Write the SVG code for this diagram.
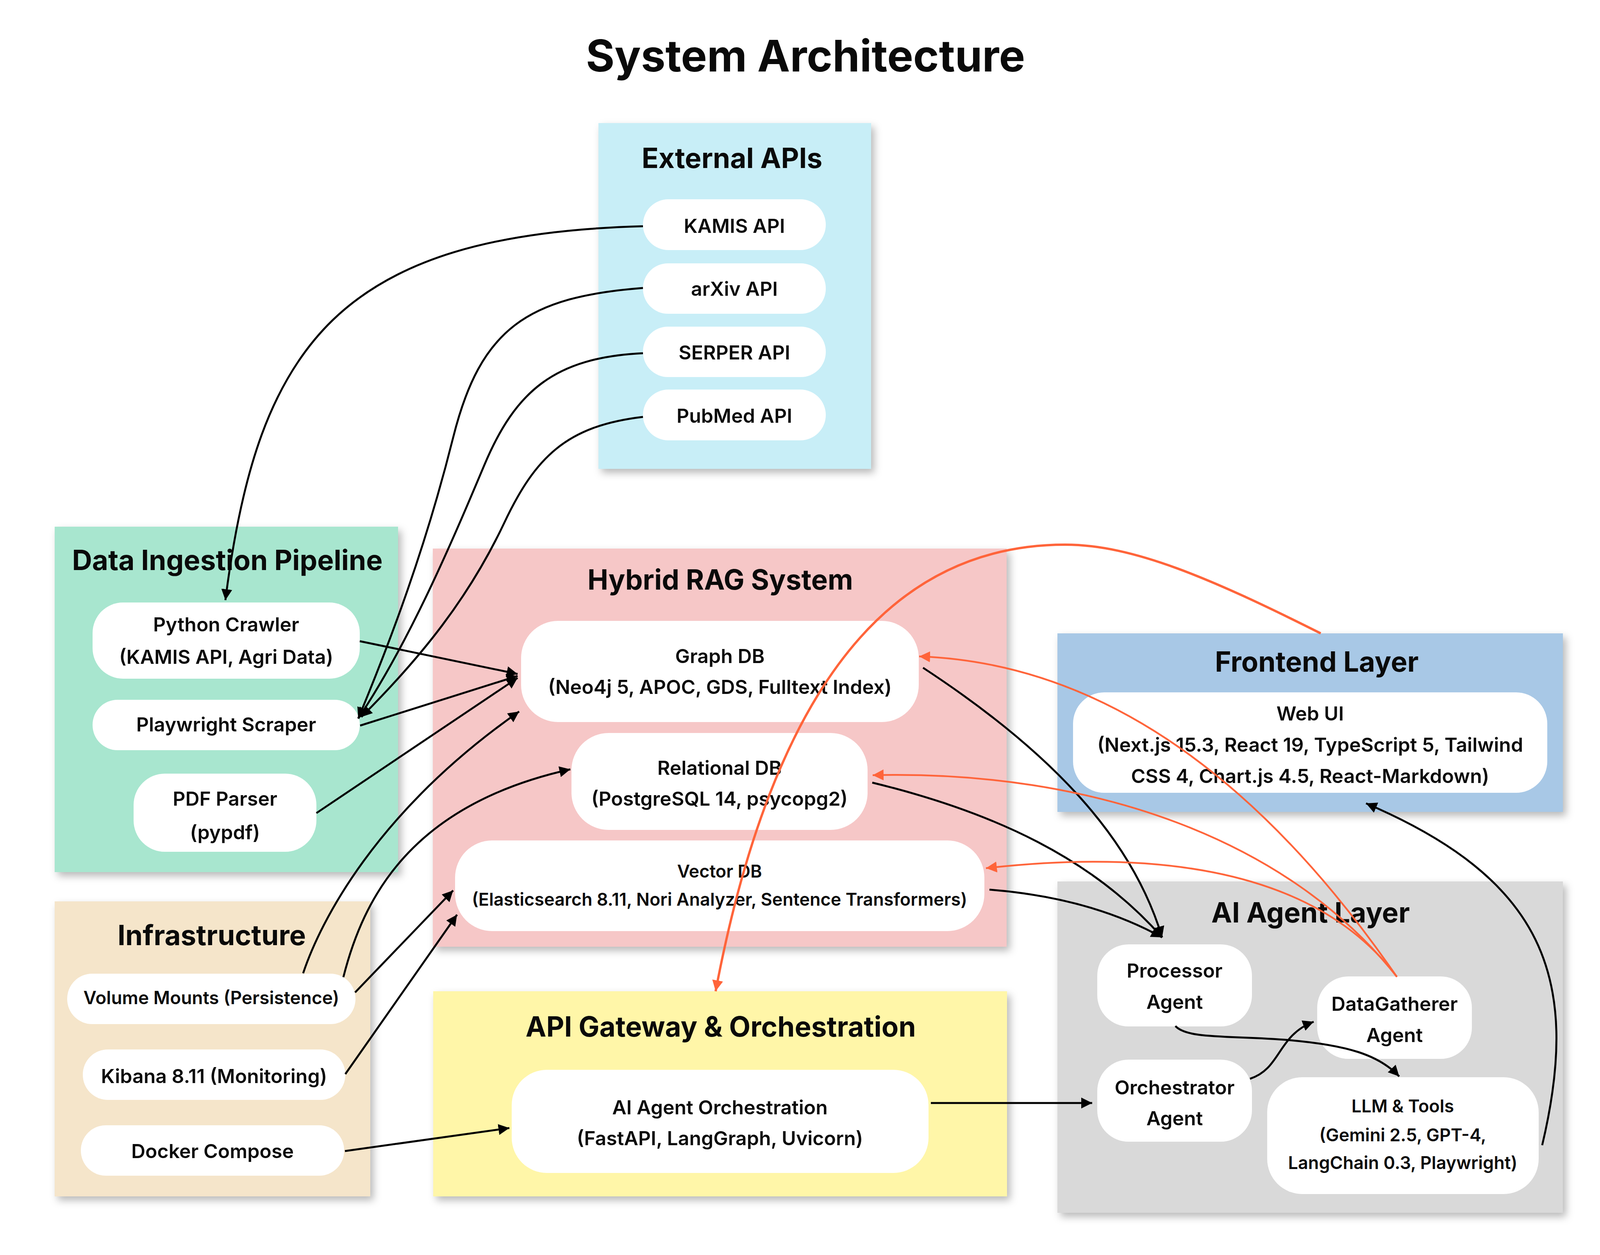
<svg xmlns="http://www.w3.org/2000/svg" width="4140" height="3212" viewBox="0 0 4140 3212">
<defs>
<filter id="sh" x="-10%" y="-10%" width="125%" height="125%">
<feDropShadow dx="8" dy="10" stdDeviation="10" flood-color="#000" flood-opacity="0.28"/>
</filter>
<marker id="ab" viewBox="0 0 10 10" refX="10" refY="5" markerWidth="28" markerHeight="28" markerUnits="userSpaceOnUse" orient="auto">
<path d="M0,0 L10,5 L0,10 z" fill="#000"/>
</marker>
<marker id="ar" viewBox="0 0 10 10" refX="10" refY="5" markerWidth="28" markerHeight="30" markerUnits="userSpaceOnUse" orient="auto">
<path d="M0,0 L10,5 L0,10 z" fill="#FF643A"/>
</marker>
</defs>
<style>
text{font-family:Inter,"Noto Sans","Liberation Sans",sans-serif;fill:#0a0a0a;text-anchor:middle}
.title{font-size:112px;font-weight:700}
.ct{font-size:71px;font-weight:700}
.nt{font-size:50px;font-weight:600}
.sm{font-size:46px;font-weight:600}
.xs{font-size:45px;font-weight:600}
.cl{filter:url(#sh)}
.nd{fill:#fff}
.e{fill:none;stroke:#000;stroke-width:5;marker-end:url(#ab)}
.r{fill:none;stroke:#FF643A;stroke-width:4.5;marker-end:url(#ar)}
.rb{stroke-width:6}
</style>
<rect x="0" y="0" width="4140" height="3212" fill="#fff"/>
<text class="title" x="2062" y="183">System Architecture</text>

<g id="cluster-external">
<rect class="cl" x="1532" y="315" width="698" height="885" fill="#C8EEF7"/>
<text class="ct" x="1874" y="430">External APIs</text>
</g>
<g id="cluster-ingestion">
<rect class="cl" x="140" y="1348" width="879" height="884" fill="#A8E6CF"/>
<text class="ct" x="582" y="1459">Data Ingestion Pipeline</text>
</g>
<g id="cluster-rag">
<rect class="cl" x="1108" y="1404" width="1469" height="1019" fill="#F6C7C7"/>
<text class="ct" x="1844" y="1509">Hybrid RAG System</text>
</g>
<g id="cluster-frontend">
<rect class="cl" x="2707" y="1621" width="1294" height="457" fill="#A8C8E6"/>
<text class="ct" x="3371" y="1719">Frontend Layer</text>
</g>
<g id="cluster-agents">
<rect class="cl" x="2707" y="2256" width="1294" height="848" fill="#D9D9D9"/>
<text class="ct" x="3355" y="2361">AI Agent Layer</text>
</g>
<g id="cluster-infra">
<rect class="cl" x="140" y="2307" width="808" height="755" fill="#F5E5CA"/>
<text class="ct" x="542" y="2419">Infrastructure</text>
</g>
<g id="cluster-gateway">
<rect class="cl" x="1109" y="2537" width="1469" height="525" fill="#FFF6A8"/>
<text class="ct" x="1845" y="2653">API Gateway &amp; Orchestration</text>
</g>

<g id="kamis"><rect class="nd" x="1646" y="510" width="468" height="130" rx="65"/><text class="nt" x="1880" y="596">KAMIS API</text></g>
<g id="arxiv"><rect class="nd" x="1646" y="674" width="468" height="129" rx="64"/><text class="nt" x="1880" y="757">arXiv API</text></g>
<g id="serper"><rect class="nd" x="1646" y="836" width="468" height="129" rx="64"/><text class="nt" x="1880" y="920">SERPER API</text></g>
<g id="pubmed"><rect class="nd" x="1646" y="997" width="468" height="130" rx="65"/><text class="nt" x="1880" y="1082">PubMed API</text></g>

<g id="crawler"><rect class="nd" x="237" y="1542" width="684" height="195" rx="78"/><text class="nt" x="579" y="1616">Python Crawler</text><text class="nt" x="579" y="1699">(KAMIS API, Agri Data)</text></g>
<g id="playwright"><rect class="nd" x="237" y="1791" width="684" height="129" rx="64"/><text class="nt" x="579" y="1872">Playwright Scraper</text></g>
<g id="pdf"><rect class="nd" x="342" y="1980" width="468" height="200" rx="80"/><text class="nt" x="576" y="2062">PDF Parser</text><text class="nt" x="576" y="2148">(pypdf)</text></g>

<g id="graphdb"><rect class="nd" x="1334" y="1589" width="1018" height="259" rx="95"/><text class="nt" x="1843" y="1697">Graph DB</text><text class="nt" x="1843" y="1776">(Neo4j 5, APOC, GDS, Fulltext Index)</text></g>
<g id="reldb"><rect class="nd" x="1463" y="1876" width="758" height="248" rx="95"/><text class="nt" x="1842" y="1983">Relational DB</text><text class="nt" x="1842" y="2062">(PostgreSQL 14, psycopg2)</text></g>
<g id="vectordb"><rect class="nd" x="1165" y="2151" width="1355" height="232" rx="95"/><text class="xs" x="1842" y="2246">Vector DB</text><text class="xs" x="1842" y="2318">(Elasticsearch 8.11, Nori Analyzer, Sentence Transformers)</text></g>

<g id="webui"><rect class="nd" x="2747" y="1772" width="1214" height="257" rx="80"/><text class="nt" x="3354" y="1844">Web UI</text><text class="nt" x="3354" y="1924">(Next.js 15.3, React 19, TypeScript 5, Tailwind</text><text class="nt" x="3354" y="2004">CSS 4, Chart.js 4.5, React-Markdown)</text></g>

<g id="processor"><rect class="nd" x="2809" y="2417" width="396" height="210" rx="80"/><text class="nt" x="3007" y="2502">Processor</text><text class="nt" x="3007" y="2582">Agent</text></g>
<g id="datagatherer"><rect class="nd" x="3372" y="2499" width="396" height="211" rx="80"/><text class="nt" x="3570" y="2587">DataGatherer</text><text class="nt" x="3570" y="2667">Agent</text></g>
<g id="orchestrator"><rect class="nd" x="2809" y="2712" width="396" height="210" rx="80"/><text class="nt" x="3007" y="2801">Orchestrator</text><text class="nt" x="3007" y="2880">Agent</text></g>
<g id="llm"><rect class="nd" x="3244" y="2757" width="695" height="299" rx="90"/><text class="xs" x="3591" y="2847">LLM &amp; Tools</text><text class="xs" x="3591" y="2921">(Gemini 2.5, GPT-4,</text><text class="xs" x="3591" y="2992">LangChain 0.3, Playwright)</text></g>

<g id="aiorch"><rect class="nd" x="1310" y="2738" width="1067" height="264" rx="90"/><text class="nt" x="1843" y="2852">AI Agent Orchestration</text><text class="nt" x="1843" y="2931">(FastAPI, LangGraph, Uvicorn)</text></g>

<g id="volume"><rect class="nd" x="172" y="2492" width="738" height="129" rx="64"/><text class="sm" x="541" y="2570">Volume Mounts (Persistence)</text></g>
<g id="kibana"><rect class="nd" x="212" y="2686" width="672" height="129" rx="64"/><text class="nt" x="548" y="2772">Kibana 8.11 (Monitoring)</text></g>
<g id="docker"><rect class="nd" x="207" y="2880" width="674" height="129" rx="64"/><text class="nt" x="544" y="2964">Docker Compose</text></g>

<g id="connectors">
<path class="e" d="M1646,579 C870,600 660,880 577,1536"/>
<path class="e" d="M1646,737 C1350,760 1230,840 1160,1120 C1090,1400 1000,1640 917,1839"/>
<path class="e" d="M1646,904 C1420,915 1320,1000 1240,1190 C1160,1380 1050,1640 917,1839"/>
<path class="e" d="M1646,1067 C1450,1090 1370,1170 1290,1340 C1200,1530 1080,1680 925,1835"/>
<path class="e" d="M921,1641 L1325,1725"/>
<path class="e" d="M922,1857 L1325,1730"/>
<path class="e" d="M810,2081 L1325,1735"/>
<path class="e" d="M776,2491 C820,2360 960,2080 1329,1821"/>
<path class="e" d="M879,2501 C930,2300 1050,2060 1460,1969"/>
<path class="e" d="M909,2540 L1160,2279"/>
<path class="e" d="M884,2749 L1170,2341"/>
<path class="e" d="M883,2946 L1304,2887"/>
<path class="e" d="M2383,2823 L2796,2823"/>
<path class="e" d="M2363,1709 C2700,1930 2900,2150 2975,2399"/>
<path class="e" d="M2233,2003 C2550,2080 2800,2200 2975,2399"/>
<path class="e" d="M2533,2277 C2700,2290 2850,2330 2975,2399"/>
<path class="e" d="M3009,2626 C3040,2660 3150,2650 3300,2662 C3450,2675 3530,2700 3582,2755"/>
<path class="e" d="M3200,2761 C3280,2735 3270,2650 3363,2615"/>
<path class="e" d="M3948,2931 C4050,2500 3950,2250 3497,2056"/>
<path class="r rb" d="M3381,1621 C3100,1480 2900,1394 2727,1394 C2350,1394 2000,1650 1832,2537"/>
<path class="r" d="M3576,2500 C3300,2100 2900,1700 2353,1680"/>
<path class="r" d="M3576,2500 C3300,2150 2800,1970 2234,1984"/>
<path class="r" d="M3576,2500 C3350,2200 2900,2180 2524,2222"/>
</g>
</svg>
